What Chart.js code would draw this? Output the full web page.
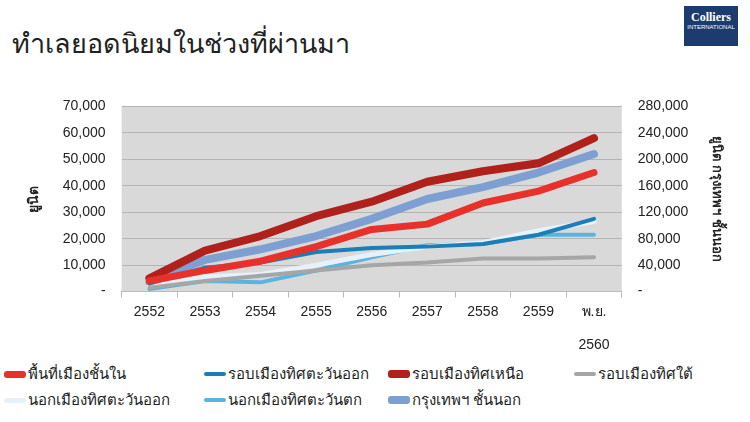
<!DOCTYPE html>
<html><head><meta charset="utf-8">
<script src="https://cdn.jsdelivr.net/npm/chart.js@4/dist/chart.umd.min.js"></script>
<style>
body{margin:0;width:750px;height:422px;background:#fff;font-family:"Noto Sans","Liberation Sans",sans-serif;overflow:hidden;position:relative}
#title{position:absolute;left:12px;top:22px;font-size:27px;color:#222}
#logo{position:absolute;left:684px;top:6px;width:54px;height:40px;background:#1d3b6e;color:#fff;font:bold 12px "Liberation Serif",serif;text-align:center;line-height:14px;padding-top:4px;box-sizing:border-box}
#logo small{font:6px "Liberation Sans",sans-serif;display:block}
#wrap{position:absolute;left:0;top:82px;width:750px;height:278px}
#legend{position:absolute;left:4px;top:362px;font-size:15px;color:#222}
.it{position:absolute;white-space:nowrap;display:flex;align-items:center}
.sw{display:inline-block;width:22px;height:6px;border-radius:3px;margin-right:2px}
</style></head><body>
<div id="title">ทำเลยอดนิยมในช่วงที่ผ่านมา</div>
<div id="logo">Colliers<small>INTERNATIONAL</small></div>
<div id="wrap"><canvas id="c"></canvas></div>
<div id="legend"></div>
<script>
const categories = ["2552","2553","2554","2555","2556","2557","2558","2559",["พ.ย.","","2560"]];
const inner = [4000,8000,11500,17000,23500,25500,33500,38000,45000];
const eastRing = [3000,9000,11000,15000,16500,17000,18000,21500,27500];
const northRing = [5000,15500,21000,28500,34000,41500,45500,48500,58000];
const southRing = [1500,4000,6000,8000,10000,11000,12500,12500,13000];
const outerEast = [2000,5500,6500,10000,14000,17000,18500,23000,26500];
const outerWest = [1000,4000,3500,8000,13000,17500,18000,21500,21500];
const bkkOuter = [14000,48000,64000,84000,110000,140000,158000,180000,208000];

const series = [
  {label:"พื้นที่เมืองชั้นใน", data:inner, color:"#e8312a", w:7},
  {label:"รอบเมืองทิศตะวันออก", data:eastRing, color:"#1a7fb8", w:4},
  {label:"รอบเมืองทิศเหนือ", data:northRing, color:"#b0211c", w:8},
  {label:"รอบเมืองทิศใต้", data:southRing, color:"#a6a6a6", w:4},
  {label:"นอกเมืองทิศตะวันออก", data:outerEast, color:"#e6f1fa", w:5},
  {label:"นอกเมืองทิศตะวันตก", data:outerWest, color:"#5bb4e0", w:4},
  {label:"กรุงเทพฯ ชั้นนอก", data:bkkOuter, color:"#7e9fd2", w:8, axis:"y2"}
];
const legendPos = [[0,0],[200,0],[384,0],[570,0],[0,26],[200,26],[384,26]];
const lg = document.getElementById("legend");
series.forEach((s,i)=>{
  const d=document.createElement("div");d.className="it";
  d.style.left=legendPos[i][0]+"px";d.style.top=legendPos[i][1]+"px";
  d.innerHTML=`<span class="sw" style="background:${s.color};height:${Math.max(4,s.w)}px"></span>${s.label}`;
  lg.appendChild(d);
});

const plotBg = {id:"plotBg",beforeDraw(ch){const a=ch.chartArea,c=ch.ctx;c.save();c.fillStyle="#d9d9d9";c.fillRect(a.left,a.top,a.right-a.left,a.bottom-a.top);c.restore();}};
const fmt = v => v===0 ? "-" : v.toLocaleString("en-US");
new Chart(document.getElementById("c"),{
  type:"line",
  data:{labels:categories,datasets:series.map(s=>({label:s.label,data:s.data,borderColor:s.color,borderWidth:s.w,pointRadius:0,tension:0,yAxisID:s.axis||"y",borderCapStyle:"round",borderJoinStyle:"round"}))},
  options:{responsive:true,maintainAspectRatio:false,animation:false,
    layout:{padding:{left:22,right:22,top:8,bottom:0}},
    plugins:{legend:{display:false},tooltip:{enabled:false}},
    scales:{
      x:{offset:true,grid:{display:true,offset:true,drawOnChartArea:false,tickLength:6,color:"#bbb"},border:{color:"#bbb"},ticks:{color:"#222",font:{size:14},maxRotation:0,padding:6}},
      y:{min:0,max:70000,ticks:{stepSize:10000,callback:fmt,color:"#222",font:{size:14},padding:16},grid:{color:"#b4b4b4",drawTicks:false},border:{display:false},
         title:{display:true,text:"ยูนิต",color:"#222",font:{size:14,weight:"bold"}}},
      y2:{position:"right",min:0,max:280000,ticks:{stepSize:40000,callback:fmt,color:"#222",font:{size:14},padding:16},grid:{display:false,drawTicks:false},border:{display:false},
         title:{display:true,text:"ยูนิต กรุงเทพฯ ชั้นนอก",color:"#222",font:{size:13,weight:"bold"}}}
    }},
  plugins:[plotBg]
});
</script></body></html>
